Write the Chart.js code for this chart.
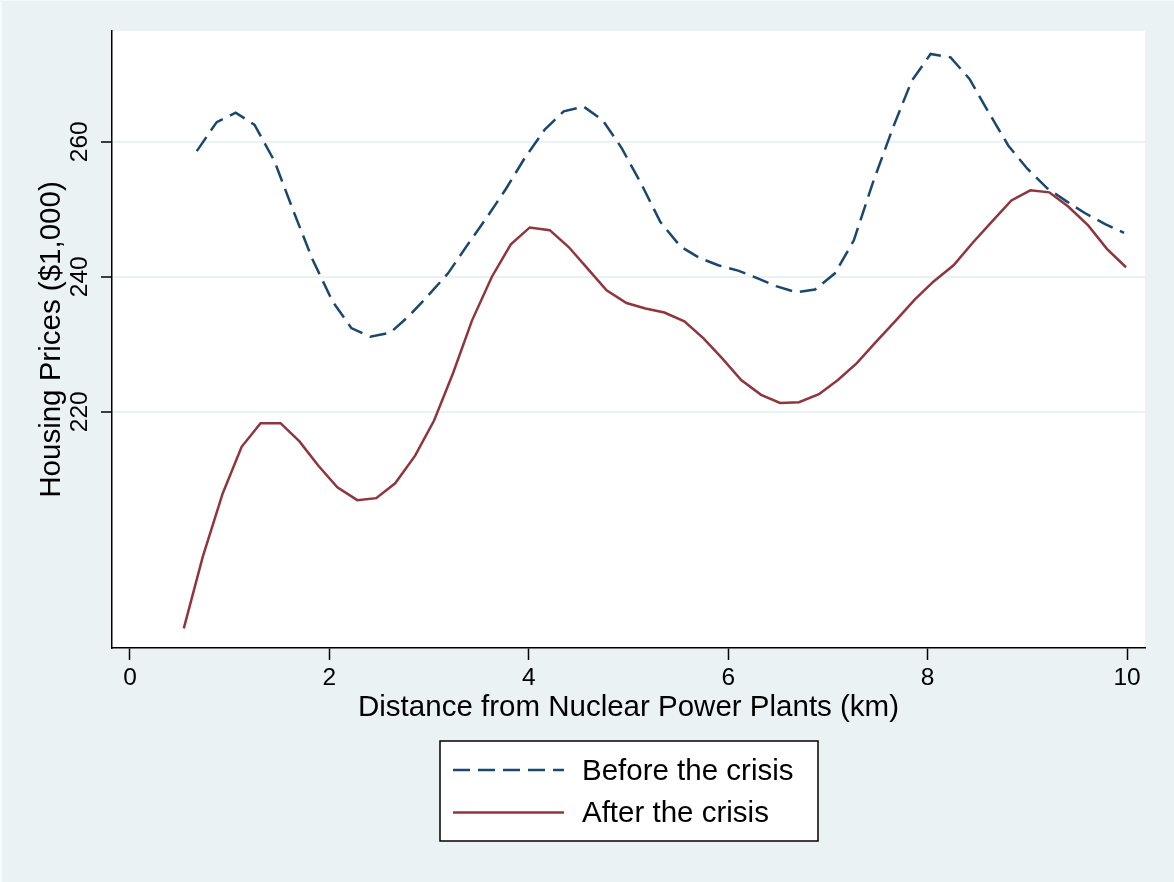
<!DOCTYPE html>
<html>
<head>
<meta charset="utf-8">
<script src="https://cdn.jsdelivr.net/npm/chart.js@4"></script>
<style>
    html, body { margin: 0; padding: 0; background: #eaf2f3; }
    canvas { display: block; }
</style>
</head>
<body>
<canvas id="housing" width="1174" height="882"></canvas>
<script>
Chart.defaults.font.family = "'Liberation Sans', Arial, sans-serif";
Chart.defaults.color = "#000";

const colors = {
    navy: "#1a476f",
    maroon: "#90353b",
    bg: "#eaf2f3",
};

const seriesLabels = ["Before the crisis", "After the crisis"];
const xTicks = [0, 2, 4, 6, 8, 10];
const yTicks = [220, 240, 260];

// distance (km) and prices ($1,000)
const beforeX = [0.67, 0.87, 1.06, 1.25, 1.45, 1.64, 1.83, 2.03, 2.22, 2.41,
    2.61, 2.80, 2.99, 3.19, 3.38, 3.58, 3.77, 3.96, 4.16, 4.35,
    4.55, 4.74, 4.93, 5.13, 5.32, 5.52, 5.71, 5.90, 6.10, 6.29,
    6.48, 6.68, 6.87, 7.07, 7.26, 7.45, 7.65, 7.84, 8.03, 8.23,
    8.42, 8.61, 8.81, 9.00, 9.20, 9.39, 9.58, 9.78, 9.97];
const beforeY = [258.6, 262.9, 264.3, 262.5, 257.1, 249.7, 242.6, 236.4, 232.4, 231.1,
    231.7, 234.2, 237.2, 240.5, 244.6, 248.8, 253.0, 257.6, 261.8, 264.5,
    265.2, 263.2, 259.1, 253.7, 248.1, 244.5, 242.8, 241.7, 240.9, 239.8,
    238.6, 237.7, 238.1, 240.5, 245.4, 253.9, 262.0, 269.0, 273.0, 272.5,
    269.3, 264.4, 259.4, 256.0, 253.1, 251.2, 249.4, 247.8, 246.5];

const afterX = [0.54, 0.73, 0.93, 1.12, 1.31, 1.51, 1.70, 1.89, 2.08, 2.28,
    2.47, 2.66, 2.86, 3.05, 3.24, 3.43, 3.63, 3.82, 4.01, 4.21,
    4.40, 4.59, 4.78, 4.98, 5.17, 5.36, 5.56, 5.75, 5.94, 6.13,
    6.33, 6.52, 6.71, 6.91, 7.10, 7.29, 7.48, 7.68, 7.87, 8.06,
    8.26, 8.45, 8.64, 8.84, 9.03, 9.22, 9.41, 9.61, 9.80, 9.99];
const afterY = [187.9, 198.5, 207.9, 214.8, 218.3, 218.3, 215.6, 212.0, 208.8, 206.9,
    207.2, 209.4, 213.5, 218.7, 225.7, 233.5, 240.0, 244.8, 247.3, 246.9,
    244.4, 241.2, 238.0, 236.1, 235.3, 234.7, 233.4, 230.9, 227.9, 224.7,
    222.5, 221.3, 221.4, 222.6, 224.7, 227.2, 230.3, 233.5, 236.6, 239.3,
    241.7, 245.0, 248.1, 251.3, 252.8, 252.5, 250.4, 247.6, 244.1, 241.4];

function toPoints(xs, ys) {
    return xs.map((x, i) => ({ x: x, y: ys[i] }));
}

function makeDataset(label, color, data, dash) {
    return {
        label: label,
        data: data,
        borderColor: color,
        backgroundColor: color,
        borderWidth: 2.5,
        borderDash: dash,
        pointRadius: 0,
        tension: 0,
    };
}

const backdrop = {
    id: "backdrop",
    beforeDraw(chart) {
        const { ctx, chartArea: a } = chart;
        ctx.save();
        ctx.fillStyle = "#f6fafa";
        ctx.fillRect(0, 0, chart.width, chart.height);
        ctx.fillStyle = colors.bg;
        ctx.fillRect(2, 1, chart.width - 2, chart.height - 1);
        ctx.fillStyle = "#fff";
        ctx.fillRect(a.left, a.top, a.right - a.left, a.bottom - a.top);
        ctx.restore();
    },
};

const boxLegend = {
    id: "boxLegend",
    afterDraw(chart) {
        const { ctx, chartArea: a } = chart;
        const w = 378, h = 100;
        const left = Math.round((a.left + a.right) / 2 - w / 2);
        const top = 741;
        ctx.save();
        ctx.fillStyle = "#fff";
        ctx.fillRect(left, top, w, h);
        ctx.strokeStyle = "#000";
        ctx.lineWidth = 1.5;
        ctx.strokeRect(left, top, w, h);
        ctx.font = "29.5px 'Liberation Sans', Arial, sans-serif";
        ctx.textBaseline = "middle";
        ctx.fillStyle = "#000";
        chart.data.datasets.forEach((ds, i) => {
            const y = top + 29 + i * 42.5;
            ctx.beginPath();
            ctx.setLineDash(ds.borderDash || []);
            ctx.strokeStyle = ds.borderColor;
            ctx.lineWidth = ds.borderWidth;
            ctx.moveTo(left + 13, y);
            ctx.lineTo(left + 124, y);
            ctx.stroke();
            ctx.setLineDash([]);
            ctx.fillText(ds.label, left + 142, y + 1.5);
        });
        ctx.restore();
    },
};

new Chart(document.getElementById("housing"), {
    type: "line",
    data: {
        datasets: [
            makeDataset(seriesLabels[0], colors.navy, toPoints(beforeX, beforeY), [17, 8]),
            makeDataset(seriesLabels[1], colors.maroon, toPoints(afterX, afterY), []),
        ],
    },
    options: {
        responsive: false,
        animation: false,
        devicePixelRatio: 1,
        layout: {
            padding: { top: 31, right: 29, left: 0, bottom: 154 },
        },
        plugins: {
            legend: { display: false },
            tooltip: { enabled: false },
        },
        scales: {
            x: {
                type: "linear",
                min: -0.18,
                max: 10.18,
                afterBuildTicks: (s) => { s.ticks = xTicks.map((v) => ({ value: v })); },
                afterFit: (s) => { s.height = 80; },
                ticks: {
                    font: { size: 24.5 },
                    color: "#000",
                    padding: 4,
                    maxRotation: 0,
                },
                grid: {
                    drawOnChartArea: false,
                    tickLength: 12,
                    tickColor: "#000",
                    tickWidth: 1.5,
                },
                border: { color: "#000", width: 1.5 },
                title: {
                    display: true,
                    text: "Distance from Nuclear Power Plants (km)",
                    font: { size: 29.5 },
                    color: "#000",
                    padding: { top: 0, bottom: 2 },
                },
            },
            y: {
                type: "linear",
                min: 185,
                max: 276.4,
                afterBuildTicks: (s) => { s.ticks = yTicks.map((v) => ({ value: v })); },
                afterFit: (s) => { s.width = 112; },
                ticks: {
                    font: { size: 24.5 },
                    color: "#000",
                    minRotation: 90,
                    maxRotation: 90,
                    crossAlign: "center",
                    padding: 0,
                },
                grid: {
                    color: colors.bg,
                    lineWidth: 2,
                    tickLength: 11,
                    tickColor: "#000",
                    tickWidth: 1.5,
                },
                border: { color: "#000", width: 1.5 },
                title: {
                    display: true,
                    text: "Housing Prices ($1,000)",
                    font: { size: 29.5 },
                    color: "#000",
                    padding: { top: 34, bottom: 0 },
                },
            },
        },
    },
    plugins: [backdrop, boxLegend],
});
</script>
</body>
</html>
